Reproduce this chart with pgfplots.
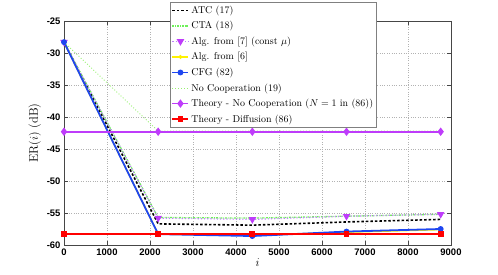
\documentclass[border=0pt]{standalone}
\usepackage{fontspec}
\setsansfont{Liberation Sans}
\usepackage{pgfplots}
\pgfplotsset{compat=1.18}
\definecolor{ctagreen}{RGB}{110,240,90}
\definecolor{algviolet}{RGB}{190,130,250}
\definecolor{nocoop}{RGB}{150,240,110}
\definecolor{thpurple}{RGB}{190,60,250}
\definecolor{cfgblue}{RGB}{30,70,240}
\definecolor{axgray}{RGB}{70,70,70}
\begin{document}
\begin{tikzpicture}[x=1bp,y=1bp]
\begin{axis}[
  scale only axis,
  width=387bp, height=224bp,
  xmin=0, xmax=9000, ymin=-60, ymax=-25,
  xtick={0,1000,...,9000}, ytick={-60,-55,...,-25},
  scaled x ticks=false,
  /pgf/number format/.cd, 1000 sep={}, assume math mode=true,
  /pgfplots/.cd,
  ticklabel style={font=\sffamily\bfseries\fontsize{9.5}{10}\selectfont},
  tick align=inside, tick style={axgray, line width=0.6pt},
  major tick length=4bp,
  axis line style={axgray, line width=0.8pt},
  grid=major, grid style={gray!60, dotted, line width=0.5pt},
  xlabel={$i$}, ylabel={ER$(i)$ (dB)},
  label style={font=\fontsize{12.5}{14}\selectfont},
  xlabel style={yshift=3bp},
  ylabel style={yshift=-1bp},
  legend cell align=left,
  legend style={at={(0.541,1.085)}, anchor=north, draw=gray, line width=0.8pt,
    font=\fontsize{10}{12}\selectfont, row sep=2.6pt, inner sep=1.5pt,
    /tikz/every even column/.append style={column sep=0pt}},
  legend image code/.code={\draw[#1] (0bp,0bp) -- (16bp,0bp); \path[#1,solid] plot coordinates {(8bp,0bp)};},
]
\addplot[black, dashed, line width=1.6pt, dash pattern=on 2.5pt off 2pt] coordinates {(0,-28.3) (2190,-56.7) (4380,-56.9) (6570,-56.4) (8760,-56.0)};
\addlegendentry{ATC (17)}
\addplot[ctagreen, dash pattern=on 2pt off 1pt on 0.6pt off 1pt, line width=1.3pt] coordinates {(0,-28.3) (2190,-55.7) (4380,-55.8) (6570,-55.5) (8760,-55.2)};
\addlegendentry{CTA (18)}
\addplot[algviolet, dotted, line width=1.2pt, mark=triangle*, mark size=3.2pt, mark options={solid, fill=thpurple, draw=thpurple, rotate=180}] coordinates {(0,-28.3) (2190,-55.8) (4380,-56.0) (6570,-55.5) (8760,-55.2)};
\addlegendentry{Alg. from [7] (const $\mu$)}
\addplot[yellow, line width=1.4pt, mark=*, mark size=1.2pt] coordinates {(0,-28.3) (2190,-58.3) (4380,-58.5) (6570,-58.0) (8760,-57.6)};
\addlegendentry{Alg. from [6]}
\addplot[cfgblue, line width=1.8pt, mark=*, mark size=2pt] coordinates {(0,-28.3) (2190,-58.3) (4380,-58.6) (6570,-57.9) (8760,-57.5)};
\addlegendentry{CFG (82)}
\addplot[nocoop, dotted, line width=0.9pt] coordinates {(0,-28.3) (2190,-42.2) (4380,-42.2) (6570,-42.2) (8760,-42.2)};
\addlegendentry{No Cooperation (19)}
\addplot[thpurple, line width=1.8pt, mark=diamond*, mark size=2.8pt] coordinates {(0,-42.3) (2190,-42.3) (4380,-42.3) (6570,-42.3) (8760,-42.3)};
\addlegendentry{Theory - No Cooperation ($N=1$ in (86))}
\addplot[red, line width=1.8pt, mark=square*, mark size=2pt] coordinates {(0,-58.3) (2190,-58.3) (4380,-58.3) (6570,-58.3) (8760,-58.3)};
\addlegendentry{Theory - Diffusion (86)}
\end{axis}
\path ([shift={(-64bp,-30bp)}]current axis.south west) rectangle ([shift={(47bp,21bp)}]current axis.north east);
\end{tikzpicture}
\end{document}
